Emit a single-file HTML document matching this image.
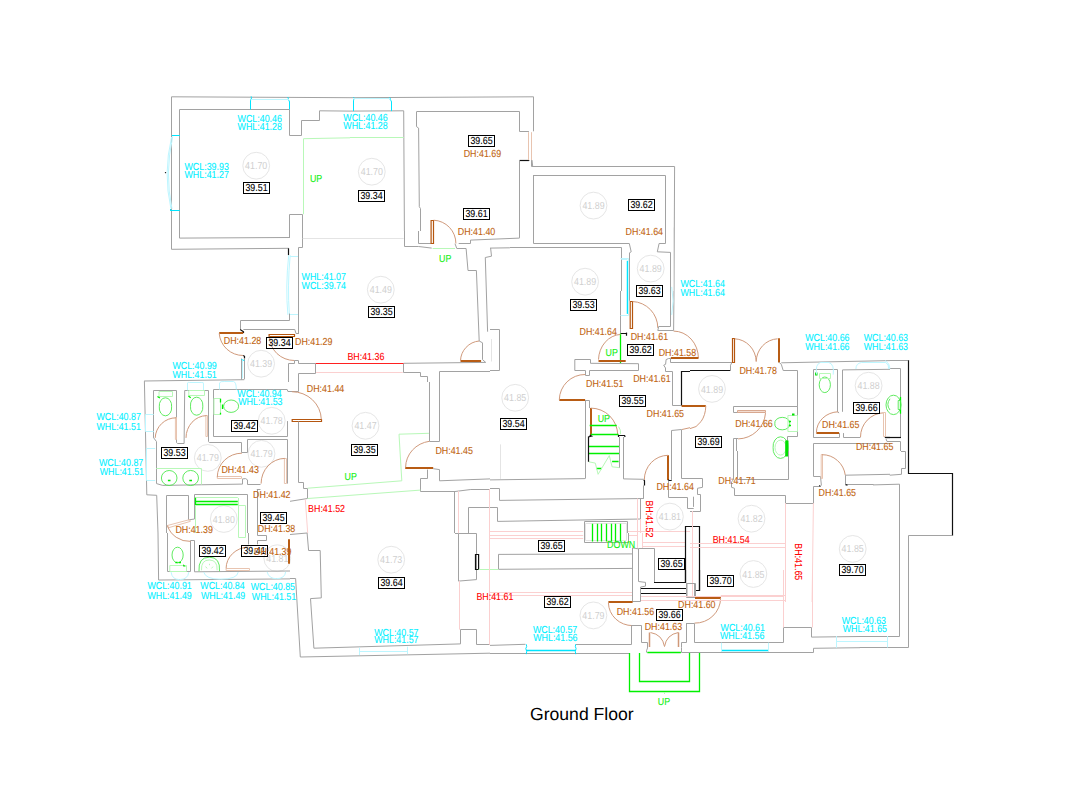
<!DOCTYPE html>
<html><head><meta charset="utf-8"><title>Ground Floor</title>
<style>
html,body{margin:0;padding:0;background:#fff;}
body{width:1073px;height:811px;overflow:hidden;position:relative;}
svg{position:absolute;left:0;top:0;display:block;}
svg text{font-family:"Liberation Sans",Arial,sans-serif;font-size:10.2px;text-rendering:geometricPrecision;}
path,circle,rect{fill:none;stroke-width:1;}
.w{stroke:#a2a2a2;}
.wl{stroke:#e4e4e4;}
.k{stroke:#111;stroke-width:1.2;}
.c{stroke:#00e5ff;}
.C{stroke:#00e5ff;stroke-width:1.5;}
.cl{stroke:#bdf6ff;}
.g{stroke:#4fe84f;stroke-width:0.9;}
.gl{stroke:#b8f8b8;}
.G{stroke:#00f000;stroke-width:1.3;}
.gf{fill:#00e000;stroke:none;}
.d{stroke:#d09a7c;}
.dl{stroke:#e8c4b0;}
.df{fill:#f3ddd2;stroke:#d8a890;}
.dw{stroke:#d09878;stroke-width:1.5;}
.dr{fill:#fff;stroke:#b5560f;stroke-width:1.2;}
.D{stroke:#b85c14;stroke-width:2;}
.r{stroke:#ff2020;stroke-width:1.2;}
.p{stroke:#fbd0d0;}
.ci{stroke:#e6e6e6;}
.tc{fill:#00f0ff;stroke:#00f0ff;stroke-width:.1px;}
.td{fill:#c06410;stroke:#c06410;stroke-width:.1px;}
.tr{fill:#ff0000;stroke:#ff0000;stroke-width:.1px;}
.tg{fill:#10f010;stroke:#10f010;stroke-width:.1px;}
.tl{fill:#cfcfcf;text-anchor:middle;}
.tb{fill:#000;text-anchor:middle;stroke:#000;stroke-width:.1px;}
.bx{fill:none;stroke:#000;stroke-width:1;}
svg text.title{fill:#000;font-size:17.6px;}
</style></head><body>
<svg width="1073" height="811" viewBox="0 0 1073 811">
<g>
<circle class="ci" cx="256.2" cy="165.7" r="13.4"/>
<circle class="ci" cx="371.8" cy="171.7" r="13.4"/>
<circle class="ci" cx="593.5" cy="205.6" r="13.4"/>
<circle class="ci" cx="650.7" cy="268.6" r="13.4"/>
<circle class="ci" cx="585.1" cy="281.7" r="13.4"/>
<circle class="ci" cx="261.1" cy="363.7" r="13.4"/>
<circle class="ci" cx="380.8" cy="289.7" r="13.4"/>
<circle class="ci" cx="712" cy="388.9" r="13.4"/>
<circle class="ci" cx="868.6" cy="385.7" r="13.4"/>
<circle class="ci" cx="271.7" cy="420.8" r="13.4"/>
<circle class="ci" cx="207.8" cy="457.9" r="13.4"/>
<circle class="ci" cx="261.5" cy="453.8" r="13.4"/>
<circle class="ci" cx="223.8" cy="519" r="13.4"/>
<circle class="ci" cx="365.5" cy="425.8" r="13.4"/>
<circle class="ci" cx="515.2" cy="397.8" r="13.4"/>
<circle class="ci" cx="669.9" cy="516.6" r="13.4"/>
<circle class="ci" cx="751.5" cy="518.7" r="13.4"/>
<circle class="ci" cx="753.4" cy="574" r="13.4"/>
<circle class="ci" cx="852.7" cy="548.9" r="13.4"/>
<circle class="ci" cx="277.3" cy="558.2" r="13.4"/>
<circle class="ci" cx="391.2" cy="559.7" r="13.4"/>
<circle class="ci" cx="593.4" cy="615.4" r="13.4"/>
</g>
<g>
<path class="w" d="M171.5 231L171.5 96.8L350 97.7"/>
<path class="w" d="M179.5 231L179.5 109.5L289.5 109.5L289.5 135.5L301.5 135.5L301.5 120.5L319.5 120.5L319.5 110.8L350 111.1"/>
<path class="w" d="M289.5 231L289.5 214.5L302.5 214.5L302.5 231"/>
<path class="gl" d="M303.5 214.2L303.5 138.7L350 137.8"/>
<path class="c" d="M250.5 109.5L250.5 100.9Q250.7 98.6 251.8 97.9Q250.7 97.5 251.2 96.4"/>
<path class="c" d="M289.5 109.5L289.5 102Q289.4 100.1 287.9 99.4Q289 98.3 287.6 97.1"/>
<path class="cl" d="M250.7 99.5L288.9 99.5"/>
<path class="c" d="M172 135.5L179.8 135.5"/>
<path class="c" d="M170.1 210.5L179.8 210.5"/>
<path class="c" d="M170.5 210.5L170.5 209"/>
<path class="cl" d="M172.7 136.5Q164.5 173.2 172 209"/>
<path class="cl" d="M171.6 137Q163 173.2 170.9 208.6"/>
<path class="k" d="M165.5 172.1L165.5 173.2"/>
<path class="w" d="M350 97.7L533.5 96.8L533.5 131.3"/>
<path class="w" d="M531.5 160.1L531.5 166.5L550 166.5"/>
<path class="w" d="M350 111.1L403.7 110.8L404.4 231"/>
<path class="w" d="M416.5 111.5L519.5 111.5L519.5 131.5L528.9 131.5"/>
<path class="w" d="M416.5 111.7L416.5 126.6L418.6 128.1L419.3 206.7L420.5 208.6L420.5 231"/>
<path class="w" d="M519.5 160.1L519.5 236.6"/>
<path class="k" d="M519.6 160.5L529.3 160.5"/>
<path class="w" d="M533.5 231L533.5 175.5L550 175.5"/>
<path class="dl" d="M528.5 132.2L528.5 160.1"/>
<path class="dl" d="M531.5 132.2L531.5 160.1"/>
<path class="gl" d="M350 137.5L403.7 137.5"/>
<path class="c" d="M353.5 111.1L353.5 100.9Q353.4 99.4 354.5 98.6Q353.4 97.9 353.7 97.1"/>
<path class="c" d="M391.5 111.1L391.5 102Q391.4 100.1 389.9 99.4Q391 98.3 389.5 97.5"/>
<path class="cl" d="M354.1 98.5L389.9 98.5"/>
<path class="w" d="M519.5 160.1L519.5 237.9"/>
<path class="w" d="M532 160.1L532.7 166.5L674.6 166.5L674 291"/>
<path class="w" d="M533.3 175.5L665.5 175.5L665.5 243.5L659.1 243.5L657.3 251.8L670.5 252.4L670.5 291"/>
<path class="w" d="M533.5 175L533.5 243.5L629.3 243.5L631.2 251.8L629.5 252.8L629.5 291"/>
<path class="w" d="M510 247.5L621.5 247.5L621.5 291"/>
<path class="wl" d="M673.5 227.6L673.5 291"/>
<path class="C" d="M627.5 260.8L627.5 291"/>
<path class="cl" d="M621.3 259.5L627.4 259.5"/>
<path class="w" d="M171.5 231L171.5 249.3L288.7 248.3"/>
<path class="w" d="M179.5 231L179.5 238.1L290 237.5"/>
<path class="w" d="M289.5 231L289.5 237.5"/>
<path class="k" d="M288.5 248.3L288.5 255.2"/>
<path class="cl" d="M288.7 255.2Q285.3 286.9 287.9 314.9"/>
<path class="cl" d="M290.2 255.2Q287.2 286.9 289.4 314.5L298.4 314.5"/>
<path class="cl" d="M290.2 256.5L298.4 256.5"/>
<path class="w" d="M289.5 313.6L289.5 320.5L240.5 320.5L240.5 329.4"/>
<path class="k" d="M240.2 329.4L243.5 331.7L243.5 333.1"/>
<path class="w" d="M243.4 329.5L294.8 329.5L296 333.5L298.9 333.5"/>
<path class="D" d="M219.2 333L243.2 333"/>
<path class="d" d="M219.2 333.5A24 24 0 0 0 243.2 355.5"/>
<path class="k" d="M243.2 355.5L244.5 356.3L244.5 358.5"/>
<path class="w" d="M244.5 358.5L244.5 379.2"/>
<path class="w" d="M241.5 358.5L241.5 379.7"/>
<path class="c" d="M241.4 359.6L244.3 360.5"/>
<path class="cl" d="M242.5 360.5L242.5 378.3"/>
<path class="dr" d="M269.1 334.5L294.5 334.5L294.5 336.5L269.1 336.5Z"/>
<path class="d" d="M269.5 336.7A25 24.2 0 0 0 294.5 360.5"/>
<path class="w" d="M288.5 382L288.5 363.5L294.5 363.5L294.5 360.5L298.4 360.5"/>
<path class="w" d="M144.1 381L244.3 379.7"/>
<path class="w" d="M302.5 231L302.5 247.5L298.5 247.5L298.5 333.5"/>
<path class="wl" d="M302.7 238.5L403.7 238.5"/>
<path class="w" d="M404.5 231L404.5 246.5L418.6 246.5L431.7 248.1"/>
<path class="w" d="M418.5 231L418.5 243.5L431.1 243.5"/>
<path class="dr" d="M431.1 220.5L433.5 220.5L433.5 243.5L431.1 243.5Z"/>
<path class="d" d="M433.7 220.2A23.3 23.3 0 0 1 455.9 243.5"/>
<path class="w" d="M458.7 243.5L470.5 243.5L470.5 240.1L519.5 238.1"/>
<path class="gl" d="M432.6 248.5L455 248.5"/>
<path class="w" d="M455 243.7L456.8 248.5L466.1 248.5L468 270.5L476.4 270.5L479.2 341L482.5 342.8L482.5 359.6L485.7 362.4"/>
<path class="w" d="M490.6 248L491.5 256.2L485.3 257.5L487.6 331.7"/>
<path class="D" d="M460.5 361L481.1 361"/>
<path class="d" d="M460.5 360.9A20.5 20.5 0 0 1 479.2 341"/>
<path class="w" d="M298.5 360.5L298.5 363.5L315.5 363.5L315.5 373.5L298.5 373.5L298.5 382"/>
<path class="w" d="M403.7 363.3L485.7 362.4"/>
<path class="r" d="M315.7 363.5L403.7 363.5"/>
<path class="p" d="M316.1 372.5L402.8 372.5"/>
<path class="w" d="M403.5 363.7L403.5 372.5L420.5 372.5L420.5 376.5L427.5 376.5L427.5 382"/>
<path class="w" d="M439.5 382L439.5 371.5L490 371.5"/>
<path class="w" d="M620.5 291L620.5 333.5"/>
<path class="k" d="M620.5 333.5L626.5 333.5L626.5 335.8"/>
<path class="k" d="M626.5 332.6L626.5 333.5"/>
<path class="G" d="M620.5 333.5L620.5 363.3"/>
<path class="C" d="M627.5 291L627.5 313.9"/>
<path class="cl" d="M620.5 258.5L628.5 258.5L628.5 260.8"/>
<path class="cl" d="M620.5 315.5L628.5 315.5L628.5 313"/>
<path class="w" d="M629.5 291L629.5 300.9"/>
<path class="dr" d="M630.2 301.5L632.5 301.5L632.5 328.5L630.2 328.5Z"/>
<path class="d" d="M632.6 301.5A26.5 26.5 0 0 1 657.8 327.9"/>
<path class="w" d="M670.5 291L670.5 326.5L658.7 326.5L657.8 330.5L673.6 330.5L674 291"/>
<path class="cl" d="M671.7 286.9Q674.5 300.9 671.7 314.9"/>
<path class="d" d="M673.6 331.1A24.8 27.2 0 0 1 698.4 358.3"/>
<path class="D" d="M670.8 358L698.4 358"/>
<path class="w" d="M490 248.1L509.9 247.8"/>
<path class="w" d="M574.8 359.5L590.5 359.5L590.5 363.3L638.5 363.7L638.5 370.5L589.5 370.5L589.5 375.5L585.5 375.5L585.5 370.5L574.8 370.5Z"/>
<path class="D" d="M598.5 361L625.7 361"/>
<path class="d" d="M598.5 359.6A23.3 26.1 0 0 1 620.5 334.4"/>
<path class="w" d="M490 329.5L499.5 329.5L499.5 370.5L490 370.5"/>
<path class="wl" d="M491.5 339.1L491.5 361.5"/>
<path class="w" d="M670.5 358.3L670.5 362.5L690 362.5"/>
<path class="w" d="M670.8 358.5L668.6 358.5L666.1 359.6L665.6 364.3L663.7 365.2L665.5 368L665.5 371.5L672.5 371.5L672.5 382"/>
<path class="k" d="M690 371.5L681.5 371.5L681.5 382"/>
<path class="w" d="M690 362.5L731.9 362.5L730.5 365.2L730.5 370.8"/>
<path class="k" d="M690 370.5L730.1 370.5"/>
<path class="dr" d="M732.5 338.5L734.5 338.5L734.5 362.5L732.5 362.5Z"/>
<path class="D" d="M779 338.2L779 362.4"/>
<path class="d" d="M734.7 338.8A22.4 23.3 0 0 1 756.2 361.5"/>
<path class="d" d="M777.6 338.8A22.4 23.3 0 0 0 756.2 361.5"/>
<path class="w" d="M779.1 362.4L781.3 364.3L783.2 370.5L797.5 370.5L797.5 406.5L733.5 406.5L733.5 412.5L738.1 412.5"/>
<path class="w" d="M781.3 362.8L890 360.6"/>
<path class="w" d="M813.5 437.6L813.5 369.5L837.5 369.5L837.5 411.8L839.1 413"/>
<path class="w" d="M842.5 411.8L842.5 369.9L890 369.3"/>
<path class="w" d="M813.4 437.5L839.5 437.5L839.5 433.1"/>
<path class="w" d="M843.5 433.1L843.5 437.5L860.5 437.5"/>
<path class="D" d="M816.4 433L839.1 433"/>
<path class="d" d="M816.4 432.7A22.4 20.9 0 0 1 838.2 411.8"/>
<path class="d" d="M860.5 437A23.9 24.2 0 0 1 883.8 412.8"/>
<path class="dl" d="M883.5 412.5L885.5 412.5L885.5 436.5L883.5 436.5Z"/>
<path class="k" d="M884.8 437.5L890 437.5"/>
<path class="w" d="M813.5 451L813.5 443.5L890 443.5"/>
<path class="df" d="M737.5 410.5L765.5 410.5L765.5 412.5L737.5 412.5Z"/>
<path class="d" d="M765.5 413.1A28 28 0 0 1 738.1 438.9"/>
<path class="w" d="M733.5 451L733.5 438.5L738.1 438.5"/>
<path class="w" d="M736.5 438.9L736.5 451"/>
<path class="w" d="M787.5 451L787.5 436.5L797.5 436.5L797.5 406.2"/>
<path class="g" d="M774.8 423.6A7.5 5.6 0 1 0 789.7 423.6A7.5 5.6 0 1 0 774.8 423.6"/>
<path class="gl" d="M787.9 415.5L797.5 415.5L797.5 431.5L787.9 431.5Z"/>
<path class="gf" d="M792 413.5L794.5 413.5L794.5 415.5L792 415.5Z"/>
<path class="G" d="M788.8 421.5L791 421.5M788.8 425.5L791 425.5"/>
<path class="g" d="M819.2 384.8A5.6 7.8 0 1 0 830.4 384.8A5.6 7.8 0 1 0 819.2 384.8"/>
<path class="gl" d="M819.5 373.5L830.5 373.5L830.5 378.5L819.5 378.5Z"/>
<path class="gf" d="M815.1 372.5L817.5 372.5L817.5 375.5L815.1 375.5Z"/>
<path class="cl" d="M816.7 374.6Q814.9 364.3 820.5 362.5L828.9 362.5Q834.5 364.3 833.2 374.6"/>
<path class="cl" d="M855.9 369Q855.9 363.4 861.5 362.5L885.7 362.5Q889.1 364.3 888.7 369"/>
<path class="g" d="M773.1 447.6A7.5 9.7 0 1 0 788 447.6A7.5 9.7 0 1 0 773.1 447.6"/>
<path class="gl" d="M775 447.6A5.6 7.5 0 1 0 786.2 447.6A5.6 7.5 0 1 0 775 447.6"/>
<path class="gf" d="M785.2 440.5L788.5 440.5L788.5 456.5L785.2 456.5Z"/>
<path class="D" d="M690 406L705.8 406"/>
<path class="d" d="M705.8 405.9A16.8 23.3 0 0 1 690 428.6"/>
<path class="g" d="M890 398.8Q885.7 404.4 890 410"/>
<path class="k" d="M908.5 360L908.5 451"/>
<path class="w" d="M900.5 437.9L900.5 368.5L889.8 368.5"/>
<path class="k" d="M886 437.5L901 437.5"/>
<path class="w" d="M886 438.9L887 441.5L900.5 441.5L900.5 451"/>
<path class="g" d="M886 404.9A7.5 9.7 0 1 0 901 404.9A7.5 9.7 0 1 0 886 404.9"/>
<path class="G" d="M900.5 396.9L900.5 413.7"/>
<path class="g" d="M898.2 400.5L900.5 400.5L900.5 409.5L898.2 409.5Z"/>
<path class="cl" d="M885.1 360.6Q889.8 363.4 889.8 369"/>
<path class="w" d="M890 360.5L908.4 360.5"/>
<path class="w" d="M144.4 381.1L146.8 494.8L156.7 495.3L158 533"/>
<path class="w" d="M153.5 437.9L153.5 390.5L176.5 390.5L176.5 442.6L177.6 443.5L184.1 443.5L184.7 390.5L208.5 390.5L208.5 441.6L209.3 442.5L241.5 442.5L241.5 452.5L247.5 452.5L247.5 439.5L287.5 439.5L287.5 483.6"/>
<path class="w" d="M153.7 437.9L156.5 441.6L156.5 483.6L162.7 485.4L242.5 484.1L242.5 478.9L245.6 478.6L247.5 479.9L247.5 484.5L260.5 484.5"/>
<path class="w" d="M213.5 436.4L213.5 389.5L287.2 389.5L287.9 391.5L290 391.5"/>
<path class="w" d="M213.4 436.5L287.5 436.5L287.5 421.1"/>
<path class="w" d="M256.8 489.5L260.5 489.5"/>
<path class="w" d="M257.5 489.2L257.5 533"/>
<path class="w" d="M166.5 533L166.5 495.5L188.5 495.5L188.5 519.9L194.5 519L194.5 494.5L247.5 494.5L247.5 533"/>
<path class="cl" d="M187.5 390.4L187.5 382.9Q187.9 382 189.7 382.5L201.8 382.5Q203.7 382 203.5 383.9L203.5 390.4"/>
<path class="cl" d="M219.5 389.5L219.5 382.9Q220.5 381.1 224.2 381.5L233.5 381.5Q236.3 382 236.3 389.5"/>
<path class="cl" d="M153.7 414.5L145.5 414.5L145.5 431.5L153.7 431.5"/>
<path class="cl" d="M155.2 448.5L146.5 448.5L146.5 480.5L155.2 480.5"/>
<path class="g" d="M159.3 406.8A6.2 8 0 1 0 171.6 406.8A6.2 8 0 1 0 159.3 406.8"/>
<path class="gl" d="M159 391.5L172.5 391.5L172.5 396.5L159 396.5Z"/>
<path class="g" d="M190.5 406.2A6.2 8 0 1 0 202.8 406.2A6.2 8 0 1 0 190.5 406.2"/>
<path class="gl" d="M188.8 390.5L204.5 390.5L204.5 395.5L188.8 395.5Z"/>
<path class="g" d="M223.6 406.2A7.5 6.2 0 1 0 238.6 406.2A7.5 6.2 0 1 0 223.6 406.2"/>
<path class="gl" d="M214 398.5L220.5 398.5L220.5 414.5L214 414.5Z"/>
<path class="G" d="M220.5 398.8L220.5 402.5M222.5 404.4L222.5 409M220.5 412.8L220.5 414.6"/>
<path class="G" d="M157.5 396.5L159.9 398M188.4 396L190.7 397.7"/>
<path class="gl" d="M156.2 468.5L201.5 468.5L201.5 484.5"/>
<path class="g" d="M161.4 478A7.8 7.5 0 1 0 177 478A7.8 7.5 0 1 0 161.4 478"/>
<path class="g" d="M182.8 478A7.8 7.5 0 1 0 198.5 478A7.8 7.5 0 1 0 182.8 478"/>
<path class="G" d="M167.9 480.5L170.5 480.5M189.3 480.5L192 480.5"/>
<path class="G" d="M195.7 501.5L237.8 501.5M195.7 504.5L237.8 504.5M195.5 497.6L195.5 505"/>
<path class="gl" d="M195.7 497.5L237.8 497.5"/>
<path class="gl" d="M195.5 505L195.5 533M238.2 505.5L245.5 505.5L245.5 533M238.5 497.9L238.5 533"/>
<path class="dl" d="M175.4 417.5L176.5 417.5L176.5 439.5L175.4 439.5Z"/>
<path class="d" d="M176.1 417.8A20.9 20.9 0 0 0 155.2 437.9"/>
<path class="dl" d="M205.9 415.5L207.5 415.5L207.5 436.5L205.9 436.5Z"/>
<path class="d" d="M206.5 415.6A20.9 22.4 0 0 0 186 437.9"/>
<path class="dl" d="M217.3 476.5L241.5 476.5L241.5 478.5L217.3 478.5Z"/>
<path class="d" d="M217.3 477.1A24.6 23.9 0 0 1 241.9 453.2"/>
<path class="dl" d="M284.4 458.5L286.5 458.5L286.5 483.5L284.4 483.5Z"/>
<path class="d" d="M284.8 458.4A23.9 25.2 0 0 0 261.1 483.6"/>
<path class="dl" d="M167.4 525.5L189.7 519.6L190.3 521.4L168.3 527.8Z"/>
<path class="w" d="M298.5 382L298.5 391.5L290 391.5"/>
<path class="dr" d="M292.2 419.5L321.5 419.5L321.5 421.5L292.2 421.5Z"/>
<path class="d" d="M291.9 391.7A29.5 28.3 0 0 1 321.3 419.3"/>
<path class="w" d="M298.5 421.5L298.5 482.5L303.5 482.5L303.5 488.5L307.5 488.5L307.5 498.5L290 501.3"/>
<path class="w" d="M429.5 382L429.5 441.5L439.5 441.5L439.5 382"/>
<path class="D" d="M405.2 468L433.2 468"/>
<path class="d" d="M405.6 467.4A27.6 26.5 0 0 1 429.4 441.3"/>
<path class="w" d="M427.5 469.6L427.5 478.5L420.5 478.5L420.5 491.5L455 491.5L470.8 489.5L490 489.5"/>
<path class="w" d="M433.2 468.7L439.5 469.6L439.5 480.8L490 478.9"/>
<path class="w" d="M454.5 491L454.5 533"/>
<path class="p" d="M458.5 491L458.5 533"/>
<path class="p" d="M305.3 499.4L307.7 533"/>
<path class="w" d="M468.5 533L468.5 507.5L490 507.5"/>
<path class="gl" d="M307.7 488.2L401.8 480.8L399 434.2L428.9 433.3"/>
<path class="gl" d="M307.7 498.5L420.5 490.1"/>
<path class="p" d="M489.5 489.2L489.5 533"/>
<path class="D" d="M559.3 400L585.1 400"/>
<path class="d" d="M559.3 399.7A25.7 25.7 0 0 1 585.1 374.5"/>
<path class="w" d="M585.1 400.5L589.5 400.5L589.5 408.1"/>
<path class="w" d="M585.5 400.1L585.5 478.6"/>
<path class="D" d="M591 408.1L591 435.1"/>
<path class="d" d="M590.7 408.1A27 27 0 0 1 617.7 435.1"/>
<path class="G" d="M589.7 425.5L616.7 425.5M590.7 434.5L618.6 434.5M588.8 446.5L619.5 446.5M588.8 453.5L619.5 453.5M612.1 461.5L618.6 461.5M596.2 468.5L601.8 468.5"/>
<path class="gl" d="M588.8 461.8L595.3 463.1L598.1 474.3L609.3 455.6L612.1 466.8L619.5 467.7"/>
<path class="gl" d="M618.6 426.7Q621.4 430.5 620.5 434.2"/>
<path class="k" d="M588.5 461.8L588.5 437L591.6 436.1L589.7 435.1"/>
<path class="k" d="M618.5 437L618.5 435.5L624.6 435.5L625.1 437"/>
<path class="w" d="M619.5 437L619.5 467.7"/>
<path class="w" d="M623.5 437L623.5 478.9L643.8 479.3"/>
<path class="k" d="M643.8 479.9L644.5 480.8L644.5 485.4"/>
<path class="w" d="M643.5 485.4L643.5 498.5"/>
<path class="wl" d="M500.5 444.4L500.5 478.9"/>
<path class="w" d="M490 479.9L585.1 478.6"/>
<path class="w" d="M490 488.5L499.5 488.5L499.5 500.4L643.8 498.5"/>
<path class="w" d="M490 507.5L497.5 507.5L497.5 521.4L640.5 519L640.5 498.5"/>
<path class="D" d="M668 455.3L668 479.9"/>
<path class="d" d="M668 455.3A23.9 24.6 0 0 0 644.3 479.9"/>
<path class="k" d="M668 479.9L669.3 480.5L671.7 480.5"/>
<path class="w" d="M668.5 480.8L668.5 497.5L687.5 497.5L687.5 508.5L693.7 508.5"/>
<path class="w" d="M672.5 382L672.5 405.5L682 405.5"/>
<path class="k" d="M681.5 382L681.5 405.3"/>
<path class="D" d="M681.6 406L690 406"/>
<path class="w" d="M671.5 479.9L671.5 430.5L681.5 429.5L681.5 478.5L690 478.5"/>
<path class="d" d="M682 429.5L690 427.7"/>
<path class="p" d="M637.5 498.5L637.5 533"/>
<path class="p" d="M640.5 519L640.5 533"/>
<path class="p" d="M490 531.5L583.2 531.5M627.9 531.5L690 531.5"/>
<path class="w" d="M584.5 533L584.5 521.5L627.5 521.5L627.5 533"/>
<path class="wl" d="M585.5 533L585.5 523.5L626.5 523.5L626.5 533"/>
<path class="G" d="M592.5 523.7L592.5 533M597.5 523.7L597.5 533M601.5 523.7L601.5 533M606.5 523.7L606.5 533M611.5 523.7L611.5 533M615.5 523.7L615.5 533M620.5 523.7L620.5 533"/>
<path class="k" d="M685.5 533L685.5 526.5L690 526.5"/>
<path class="w" d="M733.5 451L733.5 479.9L731.5 481.8L731.5 487.3L734.5 488.3L734.5 495.5L785.5 495.5L785.5 503.5L813.5 503.5L813.5 486.5L819.5 486.5"/>
<path class="w" d="M737.5 451L737.5 479.5L788.5 479.5L788.5 451"/>
<path class="w" d="M813.5 451L813.5 476.5L820.5 476.5L821.4 485.5"/>
<path class="k" d="M819.2 485.5L820.5 486.4"/>
<path class="dl" d="M821.2 454.5L822.5 454.5L822.5 478.5L821.2 478.5Z"/>
<path class="d" d="M822 454.7A23.3 23.9 0 0 1 845.3 475.2"/>
<path class="w" d="M845.5 484.7L845.5 475.2L890 474.3"/>
<path class="w" d="M845.6 484.5L873.6 484.5"/>
<path class="k" d="M845.6 484.6L847.5 485.3"/>
<path class="w" d="M690 478.5L702.5 478.5L702.5 487.3L697.5 488.3L697.5 494.5L700.5 494.5L700.5 511.5L690 511.5"/>
<path class="w" d="M693.5 496.7L693.5 506.9"/>
<path class="k" d="M690 526.5L699.5 526.5L699.5 590.5L694.7 590.5"/>
<path class="w" d="M690 583.5L694.5 583.5L694.5 596.4"/>
<path class="D" d="M695.2 598L720.8 598"/>
<path class="p" d="M692.5 511L692.5 596.4"/>
<path class="p" d="M785.5 503.2L785.5 602"/>
<path class="p" d="M813.4 503.2L812.1 602"/>
<path class="p" d="M690 543.5L785.1 543.5M690 547.5L785.1 547.5M720.8 595.5L785.1 595.5M720.8 600.5L785.1 600.5"/>
<path class="k" d="M908.5 451L908.5 473.5L952.5 473.5L952.5 535.8"/>
<path class="w" d="M952.6 535.5L908.5 535.5L908.5 602"/>
<path class="w" d="M899.5 602L899.5 484.2L873 484.9"/>
<path class="w" d="M901 451.5L905.5 451.5L905.5 468.5L901.5 468.5L901.5 474.3L889.8 475.2"/>
<path class="w" d="M158 533L158.6 580L290 578.9"/>
<path class="w" d="M167.5 533L167.5 571.5L190.5 571.5L190.5 540.5L194.5 540.5L194.5 571.8L290 571"/>
<path class="d" d="M167.4 525.5A23.3 22.4 0 0 0 190.7 541.4"/>
<path class="g" d="M172 555A5.6 7.8 0 1 0 183.2 555A5.6 7.8 0 1 0 172 555"/>
<path class="gl" d="M169.8 565.5L186.5 565.5L186.5 571.5L169.8 571.5Z"/>
<path class="G" d="M175.4 562.5L177.6 562.5M178.7 562.5L181 562.5"/>
<path class="gf" d="M183.2 564.3L185.8 566.5L183.2 566.5Z"/>
<path class="g" d="M199 571.2Q198.1 557.2 209.3 557.2Q220.5 557.2 219.5 571.2"/>
<path class="gl" d="M201.5 570.3Q200.9 560 209.3 560Q217.7 560 217.1 570.3"/>
<path class="gl" d="M205.6 566.6L207.1 568.4M213 566.6L211.5 568.4M209.5 563.8L209.5 565.2"/>
<path class="cl" d="M171.1 572.1Q172 579.6 179.5 579.6Q187.9 579.6 188.8 572.1"/>
<path class="cl" d="M203.7 572.1Q205.6 579.2 220.5 579.2Q237.3 579.2 238.2 572.1"/>
<path class="cl" d="M267.1 571.8Q268.9 578.7 276.4 578.7Q284.8 578.7 285.7 571.8"/>
<path class="dl" d="M226.1 568.5L249.5 568.5L249.5 570.5L226.1 570.5Z"/>
<path class="d" d="M226.1 568.4A23.3 21.4 0 0 1 248.4 547"/>
<path class="w" d="M248.5 533L248.5 544.4"/>
<path class="w" d="M257.5 533L257.5 535.5L266.5 535.5L266.5 540.5L257.5 540.5L257.5 544.4"/>
<path class="D" d="M289 539.3L289 563.8"/>
<path class="gl" d="M238.5 533L238.5 537.5L245.5 537.5L245.5 533"/>
<path class="w" d="M290 578.5L295.6 578.5L300.3 657L490 653.2"/>
<path class="w" d="M307.1 533L308.6 550.5L320.2 550.5L321.3 597.9L310.5 598.6L313.9 648.2L460.5 643.9L460.5 629.5L476.5 629.5L476.5 644.5L490 644.5"/>
<path class="w" d="M307.1 533L290 534.5"/>
<path class="w" d="M455 533.5L458.5 533.5L458.5 581.1L476.5 579.6L476.5 533.5L458.7 533.5"/>
<path class="p" d="M459.5 581.1L459.5 629.6"/>
<path class="k" d="M478.6 554.5L475.5 554.5L475.5 569.5L478.6 569.5Z"/>
<path class="gl" d="M478.6 569.5L490 569.5"/>
<path class="cl" d="M359.5 647.6L359.5 655.1M407.5 646.7L407.5 654.2M359.3 651.5L407.4 651.5"/>
<path class="w" d="M584.5 533L584.5 542.5L628.5 542.5L628.5 533"/>
<path class="wl" d="M585.5 533L585.5 540.5L626.5 540.5L626.5 533"/>
<path class="G" d="M592.5 533L592.5 541.4M597.5 533L597.5 541.4M601.5 533L601.5 541.4M606.5 533L606.5 541.4M611.5 533L611.5 541.4M615.5 533L615.5 541.4M620.5 533L620.5 541.4"/>
<path class="p" d="M490 535.5L583.2 535.5M628.9 535.5L637.3 535.5M490 538.5L583.2 538.5M490 592.5L632.6 592.5M490 595.5L632.6 595.5M642.8 542.5L685.3 542.5M642.8 546.5L685.3 546.5M641 596.5L690 596.5M641 600.5L690 600.5"/>
<path class="p" d="M489.5 533L489.5 644.8M637.5 533L637.5 547.9M642.5 533L642.5 547.9"/>
<path class="w" d="M498.4 554.4L632.6 553.9M498.5 554.4L498.5 569.3L632.6 568.4"/>
<path class="gl" d="M490 569.5L498.4 569.5"/>
<path class="w" d="M632.5 547.9L632.5 601.5L640.5 601.5L640.5 587.1L645.5 586.1L645.5 582.4L638.5 581.5L638.5 548.5L654.5 548.5L654.5 582.4"/>
<path class="w" d="M632.6 547.9L638.2 548.8"/>
<path class="k" d="M654 582.5L685.5 582.5L685.5 533"/>
<path class="k" d="M641 588.5L686.6 588.5M641 593.5L686.6 593.5"/>
<path class="w" d="M686.6 583.5L690 583.5M686.5 583.3L686.5 597.5L690 597.5"/>
<path class="D" d="M608.4 602L632.6 602"/>
<path class="d" d="M608.4 602.9A24.2 23.3 0 0 0 632.6 625.6"/>
<path class="w" d="M490 645.4L525.4 644.3M575.7 644.5L631.5 644.5L631.5 625.5L641.5 625.5L641.5 642.5L647.5 642.5L647.5 648L646.5 650.8L646.5 652.5"/>
<path class="w" d="M490 653.5L629.8 653.5"/>
<path class="C" d="M526.3 650.5L575.7 650.5"/>
<path class="c" d="M526.3 644.3Q527.3 646.7 525.8 648.6Q527.3 651.4 526.3 654.2"/>
<path class="c" d="M575.7 644.3Q574.8 646.7 576.1 648.6Q574.8 651.4 575.7 654.2"/>
<path class="dw" d="M649.5 632.5L649.5 647.1M678.5 632.5L678.5 647.1"/>
<path class="d" d="M650.5 632.5Q662.4 634.6 664.5 646.5Q666.5 634.6 678.4 632.5"/>
<path class="k" d="M685.5 570L685.5 582.5L660 582.5"/>
<path class="k" d="M699.5 570L699.5 590.5L695.4 590.5"/>
<path class="w" d="M687 583.5L695.5 583.5L695.5 597.5L687 597.5Z"/>
<path class="D" d="M695 598L720.6 598"/>
<path class="d" d="M720.6 598A25.5 25.2 0 0 1 694.5 623.1"/>
<path class="w" d="M686.1 623.5L694.5 623.5L694.5 642.5L783.5 642.5L783.5 627.5L811.5 627.5L811.5 637.1L860 636.5"/>
<path class="w" d="M686.5 623.1L686.5 642.5L681.5 642.5L681.5 647.5L681.5 650.1L681.5 652.4"/>
<path class="w" d="M681.4 652.5L813.5 652.5L813.5 648.3L860 647.7"/>
<path class="C" d="M721.5 650.5L768.1 650.5"/>
<path class="cl" d="M721.5 642.7L721.5 652M768.5 642.7L768.5 652"/>
<path class="cl" d="M836.5 637.1L836.5 647.4M836.7 641.5L860 641.5"/>
<path class="G" d="M689.5 652.9L689.5 681.5L639.5 681.5L639.5 652.9M699.5 652.9L699.5 691.5L629.5 691.5L629.5 652.9M680.9 652.5L647.3 652.5"/>
<path class="gl" d="M664.5 692.1L664.5 694"/>
<path class="p" d="M660 596.5L784 596.5M660 600.5L784 600.5M783.5 570L783.5 627.4M812.5 570L812.5 627.4M692.5 570L692.5 583"/>
<path class="w" d="M899.5 560L899.5 636.5L859.8 636.5"/>
<path class="w" d="M908.5 560L908.5 647.5L859.8 647.5"/>
<path class="cl" d="M836.5 636L836.5 647.5M887.5 636L887.5 647.5M836.9 641.5L887.2 641.5"/>
</g>
<g>
<rect class="bx" x="243.5" y="182.5" width="26" height="11"/>
<rect class="bx" x="358.5" y="190.5" width="26" height="11"/>
<rect class="bx" x="468.5" y="135.5" width="26" height="11"/>
<rect class="bx" x="463.5" y="208.5" width="26" height="11"/>
<rect class="bx" x="628.5" y="199.5" width="26" height="11"/>
<rect class="bx" x="636.5" y="285.5" width="26" height="11"/>
<rect class="bx" x="266.5" y="337.5" width="26" height="11"/>
<rect class="bx" x="368.5" y="306.5" width="26" height="11"/>
<rect class="bx" x="627.5" y="344.5" width="26" height="11"/>
<rect class="bx" x="570.5" y="299.5" width="26" height="11"/>
<rect class="bx" x="695.5" y="436.5" width="26" height="11"/>
<rect class="bx" x="853.5" y="402.5" width="26" height="11"/>
<rect class="bx" x="231.5" y="420.5" width="26" height="11"/>
<rect class="bx" x="161.5" y="447.5" width="26" height="11"/>
<rect class="bx" x="260.5" y="512.5" width="26" height="11"/>
<rect class="bx" x="351.5" y="444.5" width="26" height="11"/>
<rect class="bx" x="500.5" y="418.5" width="26" height="11"/>
<rect class="bx" x="619.5" y="395.5" width="26" height="11"/>
<rect class="bx" x="707.5" y="575.5" width="26" height="11"/>
<rect class="bx" x="839.5" y="564.5" width="26" height="11"/>
<rect class="bx" x="199.5" y="545.5" width="26" height="11"/>
<rect class="bx" x="241.5" y="545.5" width="26" height="11"/>
<rect class="bx" x="378.5" y="577.5" width="26" height="11"/>
<rect class="bx" x="538.5" y="540.5" width="26" height="11"/>
<rect class="bx" x="658.5" y="558.5" width="26" height="11"/>
<rect class="bx" x="544.5" y="596.5" width="26" height="11"/>
<rect class="bx" x="656.5" y="609.5" width="26" height="11"/>
</g>
<g>
<text class="tc" transform="translate(237.6 122) scale(.87 1)">WCL:40.46</text>
<text class="tc" transform="translate(237.6 130) scale(.87 1)">WHL:41.28</text>
<text class="tc" transform="translate(184.5 170) scale(.87 1)">WCL:39.93</text>
<text class="tc" transform="translate(184.5 178) scale(.87 1)">WHL:41.27</text>
<text class="tl" transform="translate(256.2 169) scale(.87 1)">41.70</text>
<text class="tb" transform="translate(256.5 191) scale(.87 1)">39.51</text>
<text class="tg" transform="translate(309.9 182) scale(.87 1)">UP</text>
<text class="tc" transform="translate(343.3 121) scale(.87 1)">WCL:40.46</text>
<text class="tc" transform="translate(343.3 129) scale(.87 1)">WHL:41.28</text>
<text class="tl" transform="translate(371.8 175) scale(.87 1)">41.70</text>
<text class="tb" transform="translate(371.5 199) scale(.87 1)">39.34</text>
<text class="tb" transform="translate(481.5 144) scale(.87 1)">39.65</text>
<text class="td" transform="translate(463.7 157) scale(.87 1)">DH:41.69</text>
<text class="tb" transform="translate(476.5 217) scale(.87 1)">39.61</text>
<text class="tl" transform="translate(593.5 209) scale(.87 1)">41.89</text>
<text class="tl" transform="translate(650.7 272) scale(.87 1)">41.89</text>
<text class="tl" transform="translate(585.1 285) scale(.87 1)">41.89</text>
<text class="tb" transform="translate(641.5 208) scale(.87 1)">39.62</text>
<text class="tb" transform="translate(649.5 294) scale(.87 1)">39.63</text>
<text class="td" transform="translate(625.6 235) scale(.87 1)">DH:41.64</text>
<text class="tc" transform="translate(680.5 287) scale(.87 1)">WCL:41.64</text>
<text class="tc" transform="translate(680.5 296) scale(.87 1)">WHL:41.64</text>
<text class="td" transform="translate(223.8 344) scale(.87 1)">DH:41.28</text>
<text class="tl" transform="translate(261.1 367) scale(.87 1)">41.39</text>
<text class="tb" transform="translate(279.5 346) scale(.87 1)">39.34</text>
<text class="tc" transform="translate(172.4 369) scale(.87 1)">WCL:40.99</text>
<text class="tc" transform="translate(172.4 378) scale(.87 1)">WHL:41.51</text>
<text class="tc" transform="translate(301.6 280) scale(.87 1)">WHL:41.07</text>
<text class="tc" transform="translate(301.6 289) scale(.87 1)">WCL:39.74</text>
<text class="tl" transform="translate(380.8 293) scale(.87 1)">41.49</text>
<text class="tb" transform="translate(381.5 315) scale(.87 1)">39.35</text>
<text class="td" transform="translate(295 345) scale(.87 1)">DH:41.29</text>
<text class="tr" transform="translate(347.4 360) scale(.87 1)">BH:41.36</text>
<text class="tg" transform="translate(439.1 262) scale(.87 1)">UP</text>
<text class="td" transform="translate(457.8 235) scale(.87 1)">DH:41.40</text>
<text class="td" transform="translate(579.5 335) scale(.87 1)">DH:41.64</text>
<text class="td" transform="translate(630.7 340) scale(.87 1)">DH:41.61</text>
<text class="tb" transform="translate(640.5 353) scale(.87 1)">39.62</text>
<text class="tg" transform="translate(605.6 356) scale(.87 1)">UP</text>
<text class="td" transform="translate(658.7 356) scale(.87 1)">DH:41.58</text>
<text class="td" transform="translate(633.2 382) scale(.87 1)">DH:41.61</text>
<text class="tb" transform="translate(583.5 308) scale(.87 1)">39.53</text>
<text class="tl" transform="translate(712 393) scale(.87 1)">41.89</text>
<text class="tl" transform="translate(868.6 389) scale(.87 1)">41.88</text>
<text class="tb" transform="translate(708.5 445) scale(.87 1)">39.69</text>
<text class="tb" transform="translate(866.5 411) scale(.87 1)">39.66</text>
<text class="td" transform="translate(739.4 374) scale(.87 1)">DH:41.78</text>
<text class="td" transform="translate(735.3 427) scale(.87 1)">DH:41.66</text>
<text class="td" transform="translate(822 428) scale(.87 1)">DH:41.65</text>
<text class="td" transform="translate(855.9 450) scale(.87 1)">DH:41.65</text>
<text class="tc" transform="translate(805.2 341) scale(.87 1)">WCL:40.66</text>
<text class="tc" transform="translate(805.2 350) scale(.87 1)">WHL:41.66</text>
<text class="tc" transform="translate(863.7 341) scale(.87 1)">WCL:40.63</text>
<text class="tc" transform="translate(863.7 350) scale(.87 1)">WHL:41.63</text>
<text class="tc" transform="translate(96.5 420) scale(.87 1)">WCL:40.87</text>
<text class="tc" transform="translate(96.5 430) scale(.87 1)">WHL:41.51</text>
<text class="tc" transform="translate(98.9 466) scale(.87 1)">WCL:40.87</text>
<text class="tc" transform="translate(99.7 475) scale(.87 1)">WHL:41.51</text>
<text class="tc" transform="translate(237.3 397) scale(.87 1)">WCL:40.94</text>
<text class="tc" transform="translate(238.2 405) scale(.87 1)">WHL:41.53</text>
<text class="tl" transform="translate(271.7 424) scale(.87 1)">41.78</text>
<text class="tb" transform="translate(244.5 429) scale(.87 1)">39.42</text>
<text class="tl" transform="translate(207.8 461) scale(.87 1)">41.79</text>
<text class="tb" transform="translate(174.5 456) scale(.87 1)">39.53</text>
<text class="tl" transform="translate(261.5 457) scale(.87 1)">41.79</text>
<text class="td" transform="translate(221.4 473) scale(.87 1)">DH:41.43</text>
<text class="td" transform="translate(253.1 498) scale(.87 1)">DH:41.42</text>
<text class="tl" transform="translate(223.8 523) scale(.87 1)">41.80</text>
<text class="tb" transform="translate(273.5 521) scale(.87 1)">39.45</text>
<text class="td" transform="translate(175.4 533) scale(.87 1)">DH:41.39</text>
<text class="td" transform="translate(257.8 532) scale(.87 1)">DH:41.38</text>
<text class="td" transform="translate(306.8 392) scale(.87 1)">DH:41.44</text>
<text class="tl" transform="translate(365.5 429) scale(.87 1)">41.47</text>
<text class="tb" transform="translate(364.5 453) scale(.87 1)">39.35</text>
<text class="tg" transform="translate(344.6 480) scale(.87 1)">UP</text>
<text class="td" transform="translate(435.4 454) scale(.87 1)">DH:41.45</text>
<text class="tr" transform="translate(308.1 512) scale(.87 1)">BH:41.52</text>
<text class="tr" transform="translate(646.2 500.4) rotate(90) scale(.87 1)">BH:41.52</text>
<text class="tl" transform="translate(515.2 401) scale(.87 1)">41.85</text>
<text class="tb" transform="translate(513.5 427) scale(.87 1)">39.54</text>
<text class="tb" transform="translate(632.5 404) scale(.87 1)">39.55</text>
<text class="td" transform="translate(586 387) scale(.87 1)">DH:41.51</text>
<text class="tg" transform="translate(597.7 422) scale(.87 1)">UP</text>
<text class="td" transform="translate(646.6 417) scale(.87 1)">DH:41.65</text>
<text class="td" transform="translate(656.4 490) scale(.87 1)">DH:41.64</text>
<text class="tl" transform="translate(669.9 520) scale(.87 1)">41.81</text>
<text class="td" transform="translate(718.3 484) scale(.87 1)">DH:41.71</text>
<text class="td" transform="translate(818.6 496) scale(.87 1)">DH:41.65</text>
<text class="tr" transform="translate(712.7 543) scale(.87 1)">BH:41.54</text>
<text class="tr" transform="translate(795.3 543.3) rotate(90) scale(.87 1)">BH:41.65</text>
<text class="tl" transform="translate(751.5 522) scale(.87 1)">41.82</text>
<text class="tl" transform="translate(753.4 578) scale(.87 1)">41.85</text>
<text class="tl" transform="translate(852.7 552) scale(.87 1)">41.85</text>
<text class="tb" transform="translate(720.5 584) scale(.87 1)">39.70</text>
<text class="tb" transform="translate(852.5 573) scale(.87 1)">39.70</text>
<text class="tc" transform="translate(147.4 589) scale(.87 1)">WCL:40.91</text>
<text class="tc" transform="translate(147.4 599) scale(.87 1)">WHL:41.49</text>
<text class="tc" transform="translate(200.3 589) scale(.87 1)">WCL:40.84</text>
<text class="tc" transform="translate(200.9 599) scale(.87 1)">WHL:41.49</text>
<text class="tc" transform="translate(250.7 590) scale(.87 1)">WCL:40.85</text>
<text class="tc" transform="translate(251.8 600) scale(.87 1)">WHL:41.51</text>
<text class="tl" transform="translate(277.3 562) scale(.87 1)">41.81</text>
<text class="tb" transform="translate(212.5 554) scale(.87 1)">39.42</text>
<text class="tb" transform="translate(254.5 554) scale(.87 1)">39.41</text>
<text class="td" transform="translate(254 555) scale(.87 1)">DH:41.39</text>
<text class="tl" transform="translate(391.2 563) scale(.87 1)">41.73</text>
<text class="tb" transform="translate(391.5 586) scale(.87 1)">39.64</text>
<text class="tc" transform="translate(374.2 636) scale(.87 1)">WCL:40.57</text>
<text class="tc" transform="translate(374.2 643) scale(.87 1)">WHL:41.57</text>
<text class="tr" transform="translate(476.4 600) scale(.87 1)">BH:41.61</text>
<text class="tg" transform="translate(607.1 548) scale(.87 1)">DOWN</text>
<text class="tb" transform="translate(551.5 549) scale(.87 1)">39.65</text>
<text class="tb" transform="translate(671.5 567) scale(.87 1)">39.65</text>
<text class="tb" transform="translate(557.5 605) scale(.87 1)">39.62</text>
<text class="tl" transform="translate(593.4 619) scale(.87 1)">41.79</text>
<text class="td" transform="translate(616.7 615) scale(.87 1)">DH:41.56</text>
<text class="td" transform="translate(644.7 630) scale(.87 1)">DH:41.63</text>
<text class="tb" transform="translate(669.5 618) scale(.87 1)">39.66</text>
<text class="tc" transform="translate(532.9 633) scale(.87 1)">WCL:40.57</text>
<text class="tc" transform="translate(533.2 641) scale(.87 1)">WHL:41.56</text>
<text class="tg" transform="translate(657.8 705) scale(.87 1)">UP</text>
<text class="td" transform="translate(678.1 608) scale(.87 1)">DH:41.60</text>
<text class="tc" transform="translate(720.6 631) scale(.87 1)">WCL:40.61</text>
<text class="tc" transform="translate(720 639) scale(.87 1)">WHL:41.56</text>
<text class="tc" transform="translate(841.7 624) scale(.87 1)">WCL:40.63</text>
<text class="tc" transform="translate(842.7 632) scale(.87 1)">WHL:41.65</text>
<text class="title" x="530" y="720">Ground Floor</text>
</g>
</svg>
</body></html>
